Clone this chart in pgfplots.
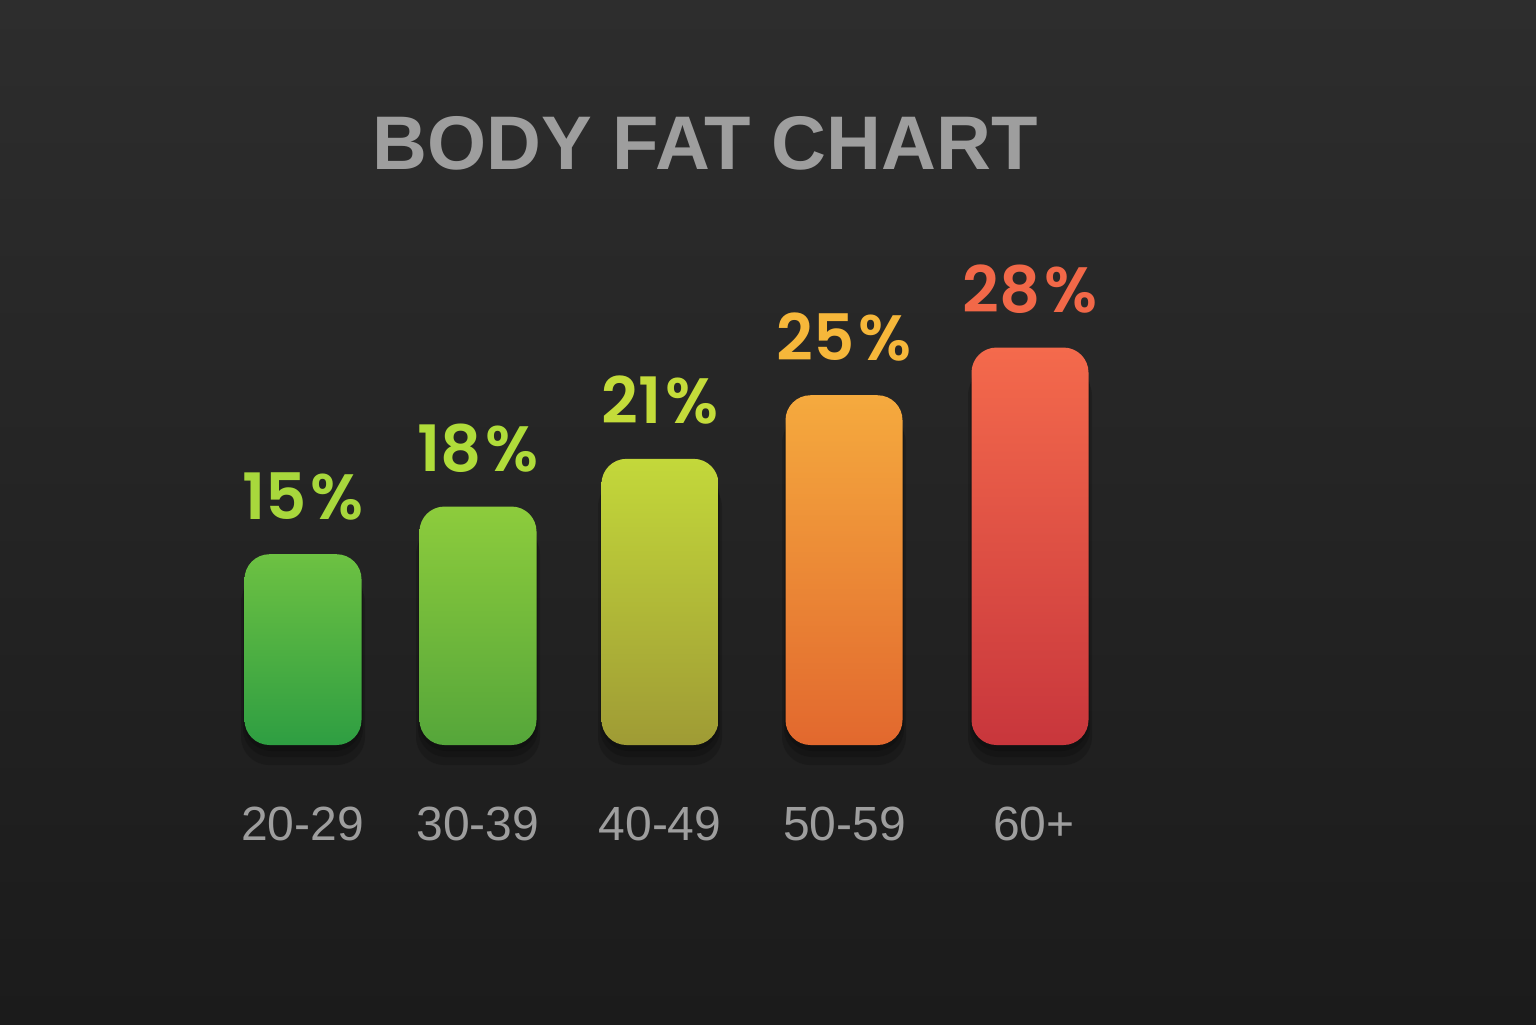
\documentclass[border=0pt]{standalone}
\usepackage{pgfplots}
\pgfplotsset{compat=1.18}
\usepackage{fontspec}
\setmainfont{Liberation Sans}
\IfFontExistsTF{Poppins SemiBold}{\newfontfamily\valfont{Poppins SemiBold}}{\newfontfamily\valfont{Poppins}}
\definecolor{bgtop}{HTML}{2D2D2D}
\definecolor{bgbot}{HTML}{1B1B1B}
\definecolor{labelgray}{HTML}{9E9E9E}
\definecolor{b1t}{HTML}{6DC142}\definecolor{b1b}{HTML}{2E9E42}
\definecolor{b2t}{HTML}{8DCC3C}\definecolor{b2b}{HTML}{55A63A}
\definecolor{b3t}{HTML}{C3D83A}\definecolor{b3b}{HTML}{9F9B35}
\definecolor{b4t}{HTML}{F5AA3E}\definecolor{b4b}{HTML}{E2682E}
\definecolor{b5t}{HTML}{F46A4C}\definecolor{b5b}{HTML}{C8363C}
\definecolor{v1}{HTML}{A8D83C}\definecolor{v2}{HTML}{B0DC3A}
\definecolor{v3}{HTML}{C4DC3A}\definecolor{v4}{HTML}{F6B73A}
\definecolor{v5}{HTML}{F26848}
\pgfplotsset{
  barstyle/.style={ybar, bar width=58.5pt, bar shift=0pt, draw=none, rounded corners=12.5pt},
  shadowstyle/.style={ybar, bar shift=0pt, draw=none, fill=black, fill opacity=0.16, rounded corners=14pt},
  valstyle/.style={draw=none, mark=none,
    nodes near coords={\valfont\pgfmathprintnumber[assume math mode=true]{\pgfplotspointmeta}\kern2pt\%},
    every node near coord/.append style={text=#1, anchor=base, yshift=17.5pt, font=\fontsize{32}{32}\selectfont}},
}
\begin{document}
\begin{tikzpicture}
\fill[top color=bgtop, bottom color=bgbot] (0pt,0pt) rectangle (768pt,512pt);
\node[anchor=base, text=labelgray, font=\fontsize{38}{38}\selectfont\bfseries] at (352.5pt,427pt) {BODY FAT CHART};
\begin{axis}[
  at={(0pt,139.5pt)}, anchor=south west,
  scale only axis, width=768pt, height=372.5pt,
  xmin=0, xmax=1536, ymin=3, ymax=49.86,
  clip=false,
  axis line style={draw=none},
  ytick=\empty,
  xtick={302.5,478,660,844.5,1034},
  xticklabels={20-29,30-39,40-49,50-59,60+},
  major tick length=0pt, tick style={draw=none},
  xticklabel style={anchor=base, yshift=-47.5pt, font=\fontsize{24}{24}\selectfont, text=labelgray},
]
\addplot[shadowstyle, bar width=62pt, yshift=-10pt] coordinates {(303,15) (478,18) (660,21) (844,25) (1030,28)};
\addplot[shadowstyle, bar width=60pt, yshift=-6pt] coordinates {(303,15) (478,18) (660,21) (844,25) (1030,28)};
\addplot[shadowstyle, bar width=59pt, yshift=-3pt] coordinates {(303,15) (478,18) (660,21) (844,25) (1030,28)};
\addplot[barstyle, top color=b1t, bottom color=b1b] coordinates {(303,15)};
\addplot[barstyle, top color=b2t, bottom color=b2b] coordinates {(478,18)};
\addplot[barstyle, top color=b3t, bottom color=b3b] coordinates {(660,21)};
\addplot[barstyle, top color=b4t, bottom color=b4b] coordinates {(844,25)};
\addplot[barstyle, top color=b5t, bottom color=b5b] coordinates {(1030,28)};
\addplot[valstyle=v1] coordinates {(303,15)};
\addplot[valstyle=v2] coordinates {(478,18)};
\addplot[valstyle=v3] coordinates {(660,21)};
\addplot[valstyle=v4] coordinates {(844,25)};
\addplot[valstyle=v5] coordinates {(1030,28)};
\end{axis}
\end{tikzpicture}
\end{document}
